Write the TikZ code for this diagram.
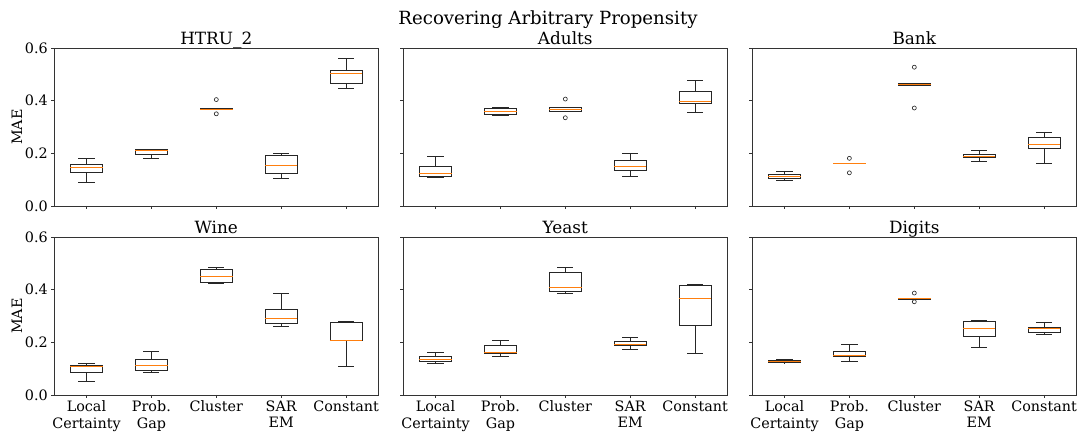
\documentclass[tikz,border=0pt]{standalone}
\usepackage{fontspec}
\setmainfont{DejaVu Serif}
\usetikzlibrary{positioning}

\definecolor{mplorange}{HTML}{FF7F0E}

% one box: position / lower whisker / q1 / median / q3 / upper whisker
\newcommand{\bxp}[6]{%
  \draw[whisk] (#1-0.25,#3) rectangle (#1+0.25,#5);
  \draw[whisk] (#1,#3) -- (#1,#2) (#1-0.125,#2) -- (#1+0.125,#2);
  \draw[whisk] (#1,#5) -- (#1,#6) (#1-0.125,#6) -- (#1+0.125,#6);
  \draw[medline] (#1-0.25,#4) -- (#1+0.25,#4);}

\newcommand{\axesframe}{%
  \draw[spine] (0.5,0) rectangle (5.5,0.6);
  \foreach \v in {0,0.2,0.4,0.6} \draw[spine] (0.5,\v) -- ++(-0.0875cm,0);
  \foreach \k in {1,...,5} \draw[spine] (\k,0) -- ++(0,-0.0875cm);}

\newcommand{\ylabels}[1]{%
  \foreach \v/\t [count=\i] in {0/0.0,0.2/0.2,0.4/0.4,0.6/0.6}
    \node[ticklab, anchor=east] (#1\i) at ([xshift=-0.15cm]0.5,\v) {\t};}

\newcommand{\xlabels}[1]{%
  \foreach \t [count=\k] in {Local\\Certainty, Prob.\\Gap, Cluster, SAR\\EM, Constant}
    \node[ticklab, anchor=north, align=center] (#1\k) at ([yshift=-0.14cm]\k,0) {\t};}

\begin{document}
\begin{tikzpicture}[x=0.025cm, y=0.025cm,
    spine/.style={black!80, line width=0.55pt},
    whisk/.style={black!85, line width=0.55pt},
    medline/.style={mplorange, line width=0.55pt},
    flier/.style={black!85, line width=0.45pt},
    ticklab/.style={font=\fontsize{10.2}{11.6}\selectfont, inner sep=0pt},
    paneltitle/.style={font=\fontsize{12}{14}\selectfont, inner sep=0pt, anchor=base},
    panel/.style={x=1.6225cm, y=6.5833cm}]
  \useasboundingbox (0,0) rectangle (1078,433);

  \node[anchor=base, inner sep=0pt, font=\fontsize{12.9}{15}\selectfont] (suptitle) at (548,408) {Recovering Arbitrary Propensity};
  \node[ticklab, rotate=90] (maeTop) at (17,306) {MAE};
  \node[ticklab, rotate=90] (maeBot) at (17,117) {MAE};

  % HTRU_2
  \begin{scope}[shift={(21.55,227)}, panel]
    \node[paneltitle] (tHtru) at ([yshift=0.09cm]3,0.6) {HTRU\_2};
    \foreach \p/\wl/\qa/\md/\qb/\wh in {1/0.09/0.128/0.147/0.158/0.18, 2/0.182/0.195/0.21/0.214/0.214,
        3/0.366/0.366/0.368/0.371/0.371, 4/0.103/0.123/0.155/0.192/0.199, 5/0.447/0.466/0.504/0.514/0.561}
      {\bxp{\p}{\wl}{\qa}{\md}{\qb}{\wh}}
    \foreach \p/\v in {3/0.404, 3/0.35} \draw[flier] (\p,\v) circle (0.05cm);
    \axesframe
    \ylabels{ytA}
  \end{scope}

  % Adults
  \begin{scope}[shift={(370.55,227)}, panel]
    \node[paneltitle] (tAdults) at ([yshift=0.09cm]3,0.6) {Adults};
    \foreach \p/\wl/\qa/\md/\qb/\wh in {1/0.11/0.111/0.124/0.151/0.19, 2/0.345/0.347/0.36/0.371/0.373,
        3/0.361/0.361/0.368/0.376/0.376, 4/0.111/0.136/0.152/0.172/0.2, 5/0.356/0.39/0.398/0.437/0.475}
      {\bxp{\p}{\wl}{\qa}{\md}{\qb}{\wh}}
    \foreach \p/\v in {3/0.406, 3/0.335} \draw[flier] (\p,\v) circle (0.05cm);
    \axesframe
  \end{scope}

  % Bank
  \begin{scope}[shift={(719.55,227)}, panel]
    \node[paneltitle] (tBank) at ([yshift=0.09cm]3,0.6) {Bank};
    \foreach \p/\wl/\qa/\md/\qb/\wh in {1/0.0975/0.106/0.113/0.1215/0.132, 2/0.163/0.163/0.163/0.163/0.163,
        3/0.458/0.458/0.462/0.466/0.466, 4/0.17/0.185/0.189/0.196/0.21, 5/0.162/0.218/0.234/0.261/0.28}
      {\bxp{\p}{\wl}{\qa}{\md}{\qb}{\wh}}
    \foreach \p/\v in {2/0.181, 2/0.126, 3/0.527, 3/0.372} \draw[flier] (\p,\v) circle (0.05cm);
    \axesframe
  \end{scope}

  % Wine
  \begin{scope}[shift={(21.55,38)}, panel]
    \node[paneltitle] (tWine) at ([yshift=0.085cm]3,0.6) {Wine};
    \foreach \p/\wl/\qa/\md/\qb/\wh in {1/0.052/0.086/0.108/0.113/0.119, 2/0.0875/0.093/0.113/0.134/0.165,
        3/0.425/0.4275/0.452/0.477/0.485, 4/0.261/0.27/0.29/0.326/0.386, 5/0.109/0.2055/0.209/0.2766/0.279}
      {\bxp{\p}{\wl}{\qa}{\md}{\qb}{\wh}}
    \axesframe
    \ylabels{ytB}
    \xlabels{xtA}
  \end{scope}

  % Yeast
  \begin{scope}[shift={(370.55,38)}, panel]
    \node[paneltitle] (tYeast) at ([yshift=0.085cm]3,0.6) {Yeast};
    \foreach \p/\wl/\qa/\md/\qb/\wh in {1/0.119/0.129/0.137/0.147/0.161, 2/0.148/0.1585/0.161/0.19/0.208,
        3/0.384/0.394/0.41/0.464/0.486, 4/0.175/0.189/0.193/0.204/0.219, 5/0.157/0.264/0.368/0.416/0.421}
      {\bxp{\p}{\wl}{\qa}{\md}{\qb}{\wh}}
    \axesframe
    \xlabels{xtB}
  \end{scope}

  % Digits
  \begin{scope}[shift={(719.55,38)}, panel]
    \node[paneltitle] (tDigits) at ([yshift=0.085cm]3,0.6) {Digits};
    \foreach \p/\wl/\qa/\md/\qb/\wh in {1/0.122/0.123/0.128/0.132/0.136, 2/0.128/0.145/0.15/0.166/0.193,
        3/0.363/0.363/0.366/0.368/0.368, 4/0.181/0.222/0.252/0.278/0.2816, 5/0.232/0.2385/0.251/0.2575/0.2766}
      {\bxp{\p}{\wl}{\qa}{\md}{\qb}{\wh}}
    \foreach \p/\v in {3/0.387, 3/0.354} \draw[flier] (\p,\v) circle (0.05cm);
    \axesframe
    \xlabels{xtC}
  \end{scope}
\end{tikzpicture}
\end{document}
